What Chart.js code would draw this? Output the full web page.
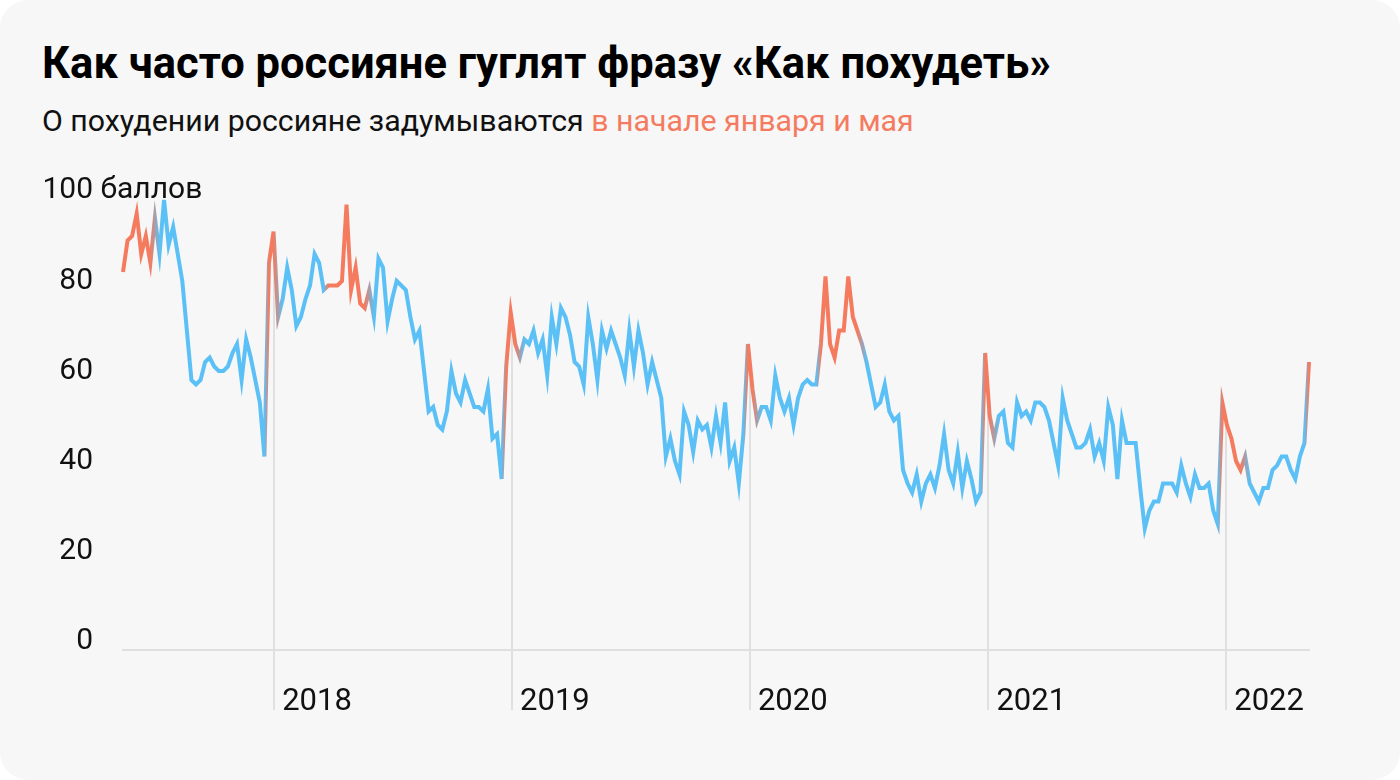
<!DOCTYPE html>
<html lang="ru">
<head>
<meta charset="utf-8">
<title>Как часто россияне гуглят фразу «Как похудеть»</title>
<script src="https://cdn.jsdelivr.net/npm/chart.js@4.4.1/dist/chart.umd.min.js"></script>
<style>
  html, body { margin: 0; padding: 0; background: #fff; }
  .card {
    position: relative; width: 1400px; height: 780px; overflow: hidden;
    background: #f7f7f7; border-radius: 28px;
    font-family: Roboto, sans-serif; color: #111;
  }
  h1 {
    position: absolute; left: 42px; top: 42px; margin: 0;
    font-size: 43.5px; line-height: 44px; font-weight: 700; white-space: nowrap; color: #000;
  }
  .sub {
    position: absolute; left: 42px; top: 106px; margin: 0;
    font-size: 30.3px; line-height: 30px; white-space: nowrap; color: #111;
  }
  .accent { color: #f47b5f; }
  .chart-box { position: absolute; left: 0; top: 160px; width: 1400px; height: 580px; }
</style>
</head>
<body>
<div class="card">
  <h1>Как часто россияне гуглят фразу «Как похудеть»</h1>
  <p class="sub">О похудении россияне задумываются <span class="accent">в начале января и мая</span></p>
  <div class="chart-box"><canvas id="grafico" width="1400" height="580"></canvas></div>
</div>
<script>
// неделя, с которой начинается ряд (Google Trends, данные по неделям)
const firstWeek = '2017-05-14';
const years = ['2018', '2019', '2020', '2021', '2022'];
const yTicks = [0, 20, 40, 60, 80, 100];

// интерес к запросу «как похудеть», баллы
const interest = [
  84, 91, 92, 97, 88, 92, 86, 96, 88, 100,
  90, 94, 88, 82, 71, 60, 59, 60, 64, 65,
  63, 62, 62, 63, 66, 68, 60, 69, 65, 60,
  55, 43, 86, 93, 74, 78, 85, 80, 72, 74,
  78, 81, 88, 86, 80, 81, 81, 81, 82, 99,
  80, 85, 77, 76, 80, 74, 87, 85, 73, 78,
  82, 81, 80, 74, 69, 71, 62, 53, 54, 50,
  49, 53, 62, 57, 55, 60, 57, 54, 54, 53,
  58, 47, 48, 38, 63, 75, 68, 65, 69, 68,
  71, 66, 69, 61, 74, 68, 76, 74, 70, 64,
  63, 59, 74, 68, 60, 71, 67, 71, 68, 65,
  61, 71, 63, 71, 66, 59, 64, 60, 56, 43,
  47, 42, 39, 53, 50, 44, 51, 49, 50, 45,
  52, 46, 55, 42, 45, 37, 48, 68, 58, 51,
  54, 54, 51, 61, 56, 53, 56, 50, 56, 59,
  60, 59, 59, 68, 83, 68, 65, 71, 71, 83,
  74, 71, 68, 64, 59, 54, 55, 59, 53, 51,
  52, 40, 37, 35, 39, 33, 37, 39, 36, 41,
  48, 40, 37, 44, 36, 42, 38, 33, 35, 66,
  52, 47, 52, 53, 46, 45, 55, 52, 53, 51,
  55, 55, 54, 51, 46, 41, 56, 51, 48, 45,
  45, 46, 49, 43, 46, 42, 54, 50, 38, 51,
  46, 46, 46, 36, 27, 31, 33, 33, 37, 37,
  37, 35, 41, 37, 34, 39, 36, 36, 37, 31,
  28, 55, 50, 47, 42, 40, 43, 37, 35, 33,
  36, 36, 40, 41, 43, 43, 40, 38, 43, 46,
  64
];

// недели, выделенные красным (номера недель от начала ряда)
const highlights = [[0, 6], [32, 33], [45, 53], [84, 86], [137, 138], [153, 161], [189, 190], [241, 245], [260, 260]];

const BLUE = [91, 192, 246];
const RED = [245, 123, 95];
const DAY = 86400000;
const start = Date.parse(firstWeek);

const points = interest.map((v, i) => ({ x: i * 7, y: v }));
const yearDays = years.map(y => (Date.parse(y + '-01-01') - start) / DAY);

const peso = interest.map(() => 0);
highlights.forEach(([a, b]) => {
    for (let i = a; i <= b; i++) peso[i] = 1;
    if (b + 1 < peso.length && peso[b + 1] < 0.5) peso[b + 1] = 0.5;
});

function mezcla(t) {
    const c = BLUE.map((b, k) => Math.round(b + (RED[k] - b) * t));
    return `rgb(${c[0]}, ${c[1]}, ${c[2]})`;
}

function colorLinea(context) {
    const chart = context.chart;
    const area = chart.chartArea;
    if (!area) return mezcla(0);
    const xs = chart.scales.x;
    const g = chart.ctx.createLinearGradient(area.left, 0, area.right, 0);
    points.forEach((p, i) => {
        let t = (xs.getPixelForValue(p.x) - area.left) / (area.right - area.left);
        t = Math.min(1, Math.max(0, t));
        g.addColorStop(t, mezcla(peso[i]));
    });
    return g;
}

// вертикальные линии годов: от линии графика вниз под ось
const lineasAnio = {
    id: 'lineasAnio',
    beforeDatasetsDraw(chart) {
        const { ctx, scales: { x, y } } = chart;
        ctx.save();
        ctx.strokeStyle = '#e0e0e0';
        ctx.lineWidth = 2;
        yearDays.forEach(d => {
            const i = Math.floor(d / 7);
            const f = (d - i * 7) / 7;
            const v = interest[i] + (interest[i + 1] - interest[i]) * f;
            const px = Math.round(x.getPixelForValue(d));
            ctx.beginPath();
            ctx.moveTo(px, y.getPixelForValue(v));
            ctx.lineTo(px, y.bottom + 60);
            ctx.stroke();
        });
        ctx.restore();
    }
};

// подпись «100 баллов» у верхнего деления
const etiquetaTope = {
    id: 'etiquetaTope',
    afterDraw(chart) {
        const { ctx, scales: { y } } = chart;
        ctx.save();
        ctx.font = '30px Roboto';
        ctx.fillStyle = '#111';
        ctx.textBaseline = 'middle';
        ctx.textAlign = 'left';
        const right = y.right - 30;
        const w = ctx.measureText('100').width;
        ctx.fillText('100 баллов', right - w, y.getPixelForValue(100) - 10);
        ctx.restore();
    }
};

Chart.defaults.font.family = 'Roboto';

const config = {
    type: 'line',
    data: {
        datasets: [{
            data: points,
            borderColor: colorLinea,
            borderWidth: 4,
            tension: 0,
            pointRadius: 0,
            clip: false,
            borderJoinStyle: 'miter'
        }]
    },
    options: {
        responsive: false,
        animation: false,
        devicePixelRatio: 1,
        layout: { padding: { top: 40, right: 91, left: 0, bottom: 0 } },
        plugins: { legend: { display: false }, tooltip: { enabled: false } },
        scales: {
            x: {
                type: 'linear',
                min: 0,
                max: (interest.length - 1) * 7,
                afterBuildTicks: s => { s.ticks = yearDays.map(v => ({ value: v })); },
                afterFit: s => { s.height = 90; s.paddingLeft = 0; s.paddingRight = 0; },
                ticks: {
                    callback: (v, i) => years[i],
                    align: 'start',
                    labelOffset: 8,
                    padding: 34,
                    autoSkip: false,
                    maxRotation: 0,
                    color: '#111',
                    font: { size: 31 }
                },
                grid: { display: false, drawTicks: false },
                border: { display: true, color: '#e0e0e0', width: 2 }
            },
            y: {
                min: 0,
                max: 100,
                afterBuildTicks: s => { s.ticks = yTicks.map(v => ({ value: v })); },
                afterFit: s => { s.width = 123; s.paddingTop = 0; s.paddingBottom = 0; },
                ticks: {
                    callback: v => (v === 100 ? '' : String(v)),
                    padding: 30,
                    labelOffset: -9,
                    color: '#111',
                    font: { size: 30 }
                },
                grid: { display: false, drawTicks: false },
                border: { display: false }
            }
        }
    },
    plugins: [lineasAnio, etiquetaTope]
};

new Chart(document.getElementById('grafico'), config);
</script>
</body>
</html>
